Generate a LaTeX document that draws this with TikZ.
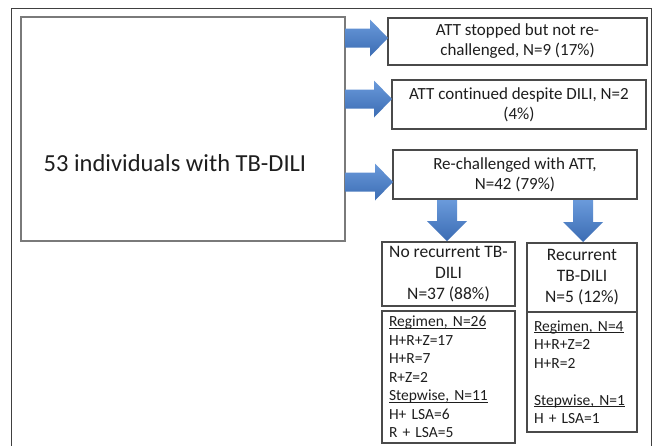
\documentclass[tikz,border=0pt]{standalone}
\usepackage{fontspec}
\setmainfont{Carlito}[Ligatures=NoCommon]
\definecolor{arrowtop}{HTML}{6A9ADB}
\definecolor{arrowbot}{HTML}{3B6CB3}
\definecolor{boxline}{HTML}{4A4A4A}
\definecolor{mainline}{HTML}{7A7A7A}
\definecolor{txt}{HTML}{1E1E1E}
\newcommand\ulx[1]{\leavevmode\setbox0\hbox{#1}\rlap{\rule[-2pt]{\wd0}{0.7pt}}\box0}
% right block arrow: x0, x1, yc
\newcommand\rarr[3]{%
  \shade[top color=arrowtop,bottom color=arrowbot]
    (#1,#3-9.5) -- (#2-18,#3-9.5) -- (#2-18,#3-18.5) -- (#2,#3)
    -- (#2-18,#3+18.5) -- (#2-18,#3+9.5) -- (#1,#3+9.5) -- cycle;}
% down block arrow: xc, y0, y1
\newcommand\darr[3]{%
  \shade[top color=arrowtop,bottom color=arrowbot]
    (#1-10,#2) -- (#1+10,#2) -- (#1+10,#3-20) -- (#1+20,#3-20) -- (#1,#3)
    -- (#1-20,#3-20) -- (#1-10,#3-20) -- cycle;}
\begin{document}
\begin{tikzpicture}[x=1pt,y=-1pt,
  box/.style={draw=boxline, line width=1.1pt, inner sep=0pt, outer sep=0pt},
  bigtxt/.style={font=\fontsize{24.5}{29}\selectfont, text=txt},
  midtxt/.style={font=\fontsize{17}{20}\selectfont, align=center, text=txt},
  toptxt/.style={font=\fontsize{17.5}{21}\selectfont, align=center, text=txt},
  listtxt/.style={font=\fontsize{15.5}{18.5}\selectfont, align=left, text=txt, inner xsep=7pt, inner ysep=0pt},
]
\useasboundingbox (0,0) rectangle (653,445);
\fill[white] (0,0) rectangle (653,445);
% outer frame (open at the bottom)
\draw[line width=1pt, draw=black!75] (11,460) -- (11,8) -- (651,8) -- (651,460);

% main box
\node[box, draw=mainline, line width=1.5pt, minimum width=324, minimum height=224] (main) at (183,129) {};
\node[bigtxt] (maintxt) at (175,163) {53 individuals with TB-DILI};

% right-hand boxes
\node[box, midtxt, minimum width=259, minimum height=47] (b1) at (517.5,41.5)
  {ATT stopped but not re-\\challenged, N=9 (17\%)};
\node[box, midtxt, minimum width=254, minimum height=49] (b2) at (519,104.5)
  {ATT cont\kern0pt inued despite DILI, N=2\\(4\%)};
\node[box, midtxt, minimum width=244, minimum height=49] (b3) at (515,174.5)
  {Re-challenged with ATT,\\N=42 (79\%)};

% lower boxes
\node[box, toptxt, minimum width=133, minimum height=64] (n1) at (448.5,274)
  {No recurrent TB-\\DILI\\N=37 (88\%)};
\node[box, listtxt, text width=119pt, minimum height=132] (n2) at (448.5,377)
  {\ulx{Regimen, N=26}\\H+R+Z=17\\H+R=7\\R+Z=2\\\ulx{Stepwise, N=11}\\H+ LSA=6\\R + LSA=5};
\node[box, toptxt, minimum width=110, minimum height=69] (r1) at (582,277.5)
  {Recurrent\\TB-DILI\\N=5 (12\%)};
\node[box, listtxt, text width=96pt, minimum height=120] (r2) at (582,372)
  {\ulx{Regimen, N=4}\\H+R+Z=2\\H+R=2\\\mbox{}\\\ulx{Stepwise, N=1}\\H + LSA=1};
\draw[boxline, line width=1.6pt] (r2.north west) -- (r2.north east);

% block arrows
\rarr{345}{388}{38}
\rarr{345}{392}{99}
\rarr{345}{393}{182}
\darr{447}{200}{241}
\darr{583}{200}{242}
\end{tikzpicture}
\end{document}
